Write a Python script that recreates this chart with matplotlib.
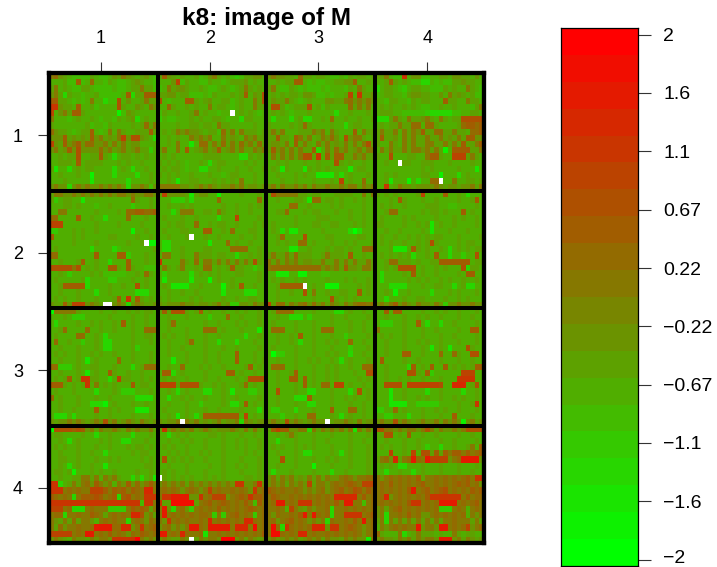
import numpy as np
import matplotlib
matplotlib.use('Agg')
import matplotlib.pyplot as plt
from matplotlib.colors import ListedColormap
from matplotlib.transforms import ScaledTranslation

plt.rcParams['font.family'] = ['Liberation Sans', 'DejaVu Sans']

# colour level of each cell, see level_of below for the key
# block_rc = row r, column c of the 4x4 layout, 19 rows of 24 cells
block_11 = ["ab98 7665 5876 6798 a987 8976", "7778 66c6 7b77 6876 6789 8776", "8a78 7668 8766 6576 6788 a886", "9a83 8776 7786 6556 7c38 8ccc",
    "cc88 7676 7a77 356d 7977 8a88", "ff98 87c7 7867 777d 8779 87a9", "e79a 8cc8 7777 7771 6987 7777", "a777 6787 7876 7768 7893 7877",
    "8777 7777 8677 6877 7787 8b8a", "b988 7678 8c76 7a7a 8778 88c8", "999c 8989 8c9a 898a e9dd 9873", "e98c 9ac9 bb99 a8a8 a899 7777",
    "9a89 c9d9 999b 9a89 a89a 8847", "7787 88d7 788c 8737 8878 7877", "7788 87c7 8888 7778 7877 8777", "8277 3787 8877 7737 8737 7877",
    "7787 7787 7177 7737 7773 7787", "7778 7777 7277 7777 7377 7787", "9a99 39a9 a99a 9a9a 9399 a959"]
block_12 = ["8c98 7877 8679 a878 6468 8997", "7779 e687 7668 7767 8889 7877", "67a8 9987 7876 6787 678a 8787", "8899 7885 6676 8777 878c 798d",
    "d767 77cc 8789 7788 6787 7a8d", "77b8 7787 877a 7887 6787 7a88", "5877 8778 a787 7677 7787 8767", "4766 7778 7877 8876 7738 8777",
    "7777 8778 8788 7a88 7777 7877", "7878 a9a9 9878 86b8 a7a8 8878", "7787 877a 9a9a 77a8 987a 9a88", "7787 a772 7bb8 a8b8 a8b9 a8b8",
    "8a77 a7c7 89a8 9c89 a8a8 8a9a", "7878 7777 7788 8877 7733 8787", "8787 8767 7873 7887 7778 7877", "7878 8767 7337 7877 7877 8778",
    "8787 8778 7778 7767 8877 7877", "7787 2778 8777 8787 87a7 7877", "aaaa a998 9a9a 9899 a9a8 9989"]
block_13 = ["9a99 887b 8878 8766 7687 8878", "7787 88cc 7676 6778 899c 7787", "8a76 6876 7665 7677 7687 a877", "7878 7887 9986 6767 78e7 f889",
    "7988 a876 7877 7998 8ab9 a9a9", "7dd8 6788 8d78 6877 77b8 a8a7", "7878 7677 7877 7773 7787 7787", "7377 7378 3377 87b7 7877 8778",
    "8777 7878 b877 7787 7378 8777", "8a8a 7778 88a9 a7a8 777c 7a88", "88c8 87ca 8a78 a9b9 7d9a a878", "8998 a7c8 a87a 8a89 8a8a 8ad8",
    "8c9a 8a8a 88c3 7a8b 9a89 a8aa", "7a8a 8a8a dd8f 7c8c c88a 9a88", "7787 8777 8778 777d 8787 7877", "7872 8777 2878 7877 7727 8877",
    "7787 7787 8772 2227 3787 7787", "7778 7787 7787 7787 e787 7b77", "9a8a 99a9 a8a9 9a99 a9aa 8a9a"]
block_14 = ["88a7 66f7 9966 7788 7998 8797", "778c 8787 6633 7576 6889 8877", "3788 7647 8877 6658 7877 a876", "6788 7768 9988 7797 a898 7866",
    "7768 8775 8788 777c 8877 a887", "7878 7787 8766 7787 7877 768a", "7888 7755 5554 3333 3567 7887", "3338 a87a 889a 87a8 788d dddd",
    "7878 8a88 bb7b b877 778b ccbc", "8a88 a7a8 a9c8 8bb8 8a88 7bbc", "8c88 97a8 a88a 88a8 98a8 cc99", "877a 87a8 a88a a88a 8a8c 88ac",
    "7a8a 88a8 aa9a 8a81 7ccc c88a", "877d 7778 877a cc87 7eee 8a87", "7787 7788 7788 8777 8777 7877", "7777 7777 7787 8777 7787 7727",
    "7787 8777 7788 7717 7737 8777", "7782 7771 7377 bb77 7a77 8878", "77f7 8a99 8999 9a98 9989 9a8a"]
block_21 = ["8aa9 9a9a 9a9a 9a9a a9a9 9aa9", "8478 8772 7777 7777 77b8 7787", "7778 8787 7767 7877 7747 7787", "77aa 7777 7787 7778 7bbc cbbc",
    "bb77 77c7 7877 3777 7b77 7877", "eee7 7777 7787 7778 7777 8777", "4477 7878 7787 7777 7717 7877", "c777 7878 7777 7887 7778 7787",
    "7777 7877 7787 7777 7877 8711", "7877 7777 7377 7735 7777 7778", "bb77 7777 77c7 777c c477 7877", "7787 778c 7787 7377 7c77 7877",
    "dddd dad7 8787 7cc8 7c87 7555", "7787 4777 7878 5555 5778 7b87", "7877 7778 3777 7447 7787 7877", "778c cccc 3777 7877 877d 7877",
    "7787 7787 7737 7877 7773 3377", "7878 7787 7787 778c 7f7c 8787", "988c 9eee 9a98 8a9a 939a 9889"]
block_22 = ["8e99 9982 8997 7177 7787 7787", "7774 4473 7777 7b77 7777 77b7", "7787 7878 7777 7787 7877 8787", "7773 7aaa 7788 7a87 7877 8777",
    "7877 7877 8777 7377 7e77 7787", "7787 8877 b778 7887 7877 7878", "7877 7887 77cc 7787 b777 8877", "7787 7787 7787 7877 7787 7877",
    "7337 7777 7772 777b 7877 8777", "7337 7877 7788 7777 bbbb 7787", "7aa7 7877 a888 7887 7377 8787", "f777 7a87 b7aa 8a8a 8a8a 8d87",
    "7a87 8a77 87bb 7878 c887 7477", "7477 7773 7878 7877 7887 7787", "7277 7772 7771 7877 8777 7787", "7872 2227 7877 7717 87c7 7877",
    "7787 7877 8777 7727 7773 3377", "8787 7778 7877 7787 7877 8877", "9899 9a99 8998 9a89 4499 8a99"]
block_23 = ["7daa aaa8 8788 7778 8887 7a7a", "7787 7788 72bb 7887 8778 7877", "7777 7bb7 7877 7787 8777 7877", "7788 b777 8788 7778 7787 7877",
    "7777 7787 7778 8877 7787 7877", "7877 7787 7788 7788 7778 7877", "7873 7227 7777 8777 7730 3777", "778b 7777 d777 7887 7777 8877",
    "7787 877b b787 7787 7878 7778", "7777 7227 7877 7878 8787 7bbb", "8a88 a8b8 8877 8a88 87c7 7877", "a8a8 a9a8 9988 a88a 8a8a 88a8",
    "abbb bbbb bbbb 9a9a 8c99 8aa8", "7722 2771 1777 5577 7777 7777", "7878 7787 8777 7877 7878 7787", "778c cccc 7787 7111 7777 8787",
    "7787 7877 d7a7 7877 8877 c787", "7787 7777 7787 77d8 7878 7777", "e8bb 8a9a b9b9 a8a9 8a9a bbab"]
block_24 = ["8787 8777 78e7 777c 7787 3777", "7778 7c87 7787 7877 7787 78c7", "7878 7787 7778 8877 6677 7787", "778b b777 7787 8878 777c 7877",
    "7877 7787 8777 7877 7878 7787", "8877 7787 7878 2787 7877 7787", "7787 7877 7787 2777 8777 8777", "7877 8778 7878 7887 7787 7778",
    "7878 7787 7878 d877 7787 8877", "7778 2227 c878 7787 3787 8788", "7878 7878 3778 7c77 3774 77d7", "778b b888 7877 88cc cccc c788",
    "7787 8ddd d787 7878 777d 3887", "7377 7787 c787 7877 7787 cc77", "7377 7778 7878 7787 8778 7787", "7773 3337 7787 7887 7378 3377",
    "7787 1778 7777 3777 8787 7787", "7737 7787 7887 7778 7787 8777", "9a9a c9a9 8a99 8a94 99a9 9a99"]
block_31 = ["0aaa aa87 7778 7787 7878 7887", "7778 7444 7777 7877 7787 7877", "7377 7787 7878 7787 c787 7877", "778b 7777 b778 7787 7787 7bbb",
    "7877 77bb 7787 3777 7787 7887", "7b77 8774 7787 3377 7787 7787", "7787 7787 7787 3377 7784 7777", "7878 7787 7878 7787 7787 7787",
    "7787 7787 2787 777b 7787 7787", "bb44 4787 7887 7787 7737 8bbb", "7787 7787 2787 7c87 7877 8777", "7878 c78f f887 737e 8877 8787",
    "ccc8 7878 f7a7 8787 77c7 8877", "7877 7877 7737 7787 4447 7787", "b787 7787 7787 7877 7773 3337", "7787 7787 7333 1787 7787 7877",
    "7787 7877 77c7 7878 7772 2277", "7333 7377 7787 7877 7787 7787", "9899 a9a9 89a9 d9a8 9a98 a989"]
block_32 = ["8c8d dd87 8c78 7787 7878 7787", "7787 7787 7774 777b 7787 7787", "778b 7777 7787 7877 7878 7787", "7787 7787 77bb b787 7787 7727",
    "7878 7787 7787 7877 7773 7787", "7787 778b 7787 7377 7377 7877", "7787 7877 7787 7787 7877 7787", "7787 7787 7787 7877 7c77 7877",
    "7772 7787 7787 7877 7c77 7878", "7787 7b77 7878 7787 7778 c787", "7cc3 7877 7787 777c c787 7877", "7878 7787 7787 7877 7878 dddd",
    "eeee 8ddd d877 8787 778b 7877", "7787 3787 7733 7787 2777 4477", "7737 7878 7787 7787 7877 7787", "7787 7787 7477 7787 337c 7877",
    "7877 7787 7787 7877 7787 7737", "7787 2787 37cc cccc cc7e 7877", "9899 a9a9 a898 9a89 9a3a 9899"]
block_33 = ["78bb bb77 7787 7773 3787 7877", "7787 7333 7477 7787 7877 7787", "7877 7787 7787 7787 7787 7877", "7bbb 7787 7787 bbb7 7787 7877",
    "7787 787c 7787 7787 7477 7787", "7787 7873 7787 7878 77b7 7877", "7877 7787 7787 7787 7747 7787", "7044 7787 7787 7878 7737 7877",
    "7787 7787 7878 7787 3787 7787", "7bbb 7787 7787 7878 7787 7bbb", "7787 78c7 7787 7878 7778 77dd", "7787 7cc7 c787 7878 7777 8787",
    "7787 7787 c787 bb7e e787 7877", "77d7 7787 7337 7787 7737 d787", "7787 7733 3c77 7787 7878 7787", "7787 7787 7337 7787 7787 7877",
    "7447 7737 7787 77c7 77bb 7877", "7774 7787 7bb7 7787 3787 7877", "9a98 d9a9 89a9 9a89 9a98 a899"]
block_34 = ["77c7 cc77 7787 7878 7787 7787", "7787 7787 7878 7787 7787 7877", "7444 7787 7c73 7737 7877 7787", "a777 7787 7787 7877 7787 7cc7",
    "7878 7787 7787 7787 7877 7787", "7787 7787 7878 7787 7787 7787", "7787 7787 7787 2787 2777 d877", "7787 77cc 7787 77b7 7b87 7dd7",
    "7c77 7787 7877 7787 7787 7877", "7787 7773 c787 c77c 7878 78cc", "7787 777d d87c 4777 777e ee77", "7787 7878 7787 7787 77ff ff77",
    "77dd dd7e eeee eed7 7ggg 78d7", "7772 7787 7773 7787 7773 7787", "7772 7787 7878 7787 7878 7787", "7772 2227 7444 4477 7787 78f7",
    "4477 b787 7787 7878 7787 7787", "7744 7773 7787 7787 7c77 7877", "9a99 d9a9 89a9 9a8a 9a91 9a89"]
block_41 = ["0ddd dcdc 9a8a 99a9 8a9a 99a8", "7887 7778 7737 7877 7737 7787", "7787 3787 7778 7877 3377 7877", "7878 7787 7787 7877 7878 8787",
    "7787 7787 7877 3777 7787 8877", "7788 7787 7787 7878 7777 8787", "7787 3787 7877 2777 7777 7887", "7887 8177 7878 7787 7778 7787",
    "7787 788a a8a7 a9a8 7737 3782", "ff37 8a8a b9ca 9a7a 9c9b 9aca", "fffa baba aeee cacb cacb agga", "cbab a3ac ccdc abc3 cdab afff",
    "ffff ffff ffff ffff ffff 5ffa", "eeea b333 abaa a444 4acb cb8a", "abb3 aaba acba 8aba bagg d9a8", "a98a 8b8a a97a baba a3ab a9ba",
    "a8b9 aaba abhh hhbb gg9a fabc", "eeee eaba hhab acab a9ba cbab", "9a98 7a99 8a9a a9ff fffj a9a9"]
block_42 = ["8f9a 9a9a 89a9 8999 a98a 8a87", "7737 8787 7778 8787 7787 7877", "7787 7878 7787 7787 7878 7787", "7878 7787 7787 7787 7878 7787",
    "7787 8787 7878 7787 7778 7877", "7d78 7878 7787 7787 7787 7787", "7787 7787 7778 7787 7878 7787", "7878 7787 7787 7787 7787 7787",
    "5878 7878 7787 8787 7778 8787", "9a9a 9a8a 9a9a 9a9a 9ff9 9af9", "abab a9ab a9ae abaa baba 9fab", "affh hhh9 9fab eee9 abcb fccb",
    "f88i iiii 8abc abcb abac a5ca", "ah93 ab94 abab acab abab cbab", "ahab abab abba 4a4a bcab a4ab", "a9fa baba abag abab abag gbab",
    "9ab9 a9ah hbah hhhh aggg aiab", "hhab agba ab2a abab abab abac", "9a98 8a99 8a9a a9jj j9a8 a989"]
block_43 = ["8cec c99a a3a8 a9a9 a8a2 a8a8", "7787 8a87 7787 7787 7787 7787", "7737 7787 7787 7877 7787 7877", "7878 7787 8787 7787 7787 7787",
    "7787 7787 3377 7787 3787 7787", "777d 7787 7787 7878 7787 7787", "7787 7787 7717 7787 7787 7787", "7377 7877 7787 7737 7877 7787",
    "9a8a 9a89 8a8a 8a99 aba9 aabb", "9a9a 8a9a 9e8a a9ab abcb aeee", "cbab aaba 9a9a b9ab cabd cacb", "acba abab abab abag gggg acab",
    "abhh abaf ffab abac ahha a5ab", "aaba 7ea9 8a9a ab3a abab abab", "a9ba abac hahb ab3a afff fabc", "ab9a bcab a9a9 a3ba abac ahab",
    "aib3 fbab abgg g9ff abcb a9ab", "aiib abag gaba abab abab a9ab", "9a99 a9a8 9a9a 8a99 8a9a 991a"]
block_44 = ["ddaa 9a9a a9ad a8a9 9a9a dddd", "78dd 787c 7787 7877 7787 7877", "7787 7787 7877 7787 7877 7787", "7878 7787 7874 7737 7877 8a7c",
    "777e 7787 e7dd 8c8c acca cabc", "8ab9 g8ab hbah eeee 9abh hhh9", "7878 7337 7787 7787 7787 7787", "7737 7877 3787 7787 7787 7877",
    "a9ab abab ac8a abab abab caff", "abac abab abca abab abcb cab9", "abab abac habc abcd abab acbc", "abg9 abab abac ffff fffa cabb",
    "abab abac ffab abhh hhab abca", "9a8a bcab abab ab44 4aba 7aba", "9a3a abac ab99 abab abab 7a9a", "8a3a 8a8a 8a8a 8a8a abaa a8a8",
    "7a9a baba ah9a a9hh abab e9ab", "b877 7a37 8a88 8787 7a87 8877", "9a99 8a9a 8a9a a9hh h9a8 a989"]
missing_cells = [(6, 40), (14, 77), (17, 86), (27, 21), (26, 31), (37, 12), (37, 13),
                 (34, 56), (56, 29), (56, 61), (65, 24), (75, 31)]

layout = [[block_11, block_12, block_13, block_14],
          [block_21, block_22, block_23, block_24],
          [block_31, block_32, block_33, block_34],
          [block_41, block_42, block_43, block_44]]
block_rows = 19
title = "k8: image of M"
axis_ticks = [1, 2, 3, 4]
bar_ticks = [2, 1.556, 1.111, 0.667, 0.222, -0.222, -0.667, -1.111, -1.556, -2]
bar_labels = ["2", "1.6", "1.1", "0.67", "0.22", "\u22120.22", "\u22120.67", "\u22121.1", "\u22121.6", "\u22122"]
n_levels = 20
# what each letter of the strings means as a band of the key (20 bands, green to red)
level_of = {'0': 0, '1': 1, '2': 2, '3': 3, '4': 4, '5': 5, '6': 5, '7': 6, '8': 7, '9': 8,
            'a': 10, 'b': 11, 'c': 12, 'd': 13, 'e': 14, 'f': 15, 'g': 16, 'h': 17, 'i': 18, 'j': 19}

# stick the blocks together into one image
grid = []
for line in layout:
    for r in range(block_rows):
        text = "".join(b[r].replace(" ", "") for b in line)
        grid.append([float(level_of[c]) for c in text])
grid = np.array(grid)
for r, c in missing_cells:
    grid[r, c] = np.nan

colors = [(k / (n_levels - 1), 1 - k / (n_levels - 1), 0) for k in range(n_levels)]
cmap = ListedColormap(colors)
cmap.set_bad('white')

W, H = 717, 567
fig = plt.figure(figsize=(W / 100, H / 100), dpi=100)

# main panel
ax = fig.add_axes([49.3 / W, 1 - 543.3 / H, 434.4 / W, 470 / H])
x0, x1 = 0.524, 4.52
y0, y1 = 4.472, 0.475
ax.imshow(grid, cmap=cmap, vmin=-0.5, vmax=n_levels - 0.5, extent=(x0, x1, y0, y1),
          aspect='auto', interpolation='nearest')
for k in range(1, 4):
    ax.axvline(x0 + k * (x1 - x0) / 4, color='black', lw=2.9)
    ax.axhline(y1 + k * (y0 - y1) / 4, color='black', lw=2.9)
for s in ax.spines.values():
    s.set_linewidth(3.1)
ax.set_xlim(x0, x1)
ax.set_ylim(y0, y1)
ax.xaxis.tick_top()
ax.set_xticks(axis_ticks)
ax.set_yticks(axis_ticks)
ax.tick_params(length=8, width=0.8, color='#333333', labelsize=13, pad=11)
fig.text(266 / W, 1 - 19 / H, title, ha='center', va='center', fontsize=17.5, fontweight='bold')

# colour key
cax = fig.add_axes([561 / W, 1 - 566 / H, 77.3 / W, 537.7 / H])
key = np.arange(n_levels)[::-1].reshape(-1, 1)
cax.imshow(key, cmap=cmap, vmin=-0.5, vmax=n_levels - 0.5, extent=(0, 1, -2.0488, 2.0488),
           aspect='auto', interpolation='nearest')
cax.set_xticks([])
cax.yaxis.tick_right()
cax.set_yticks(bar_ticks)
cax.set_yticklabels(bar_labels)
cax.tick_params(length=9, width=0.8, color='#333333', labelsize=14, pad=9)
for s in cax.spines.values():
    s.set_linewidth(0.9)
# last label sits close to the bottom edge, lift it a little
low = cax.get_yticklabels()[-1]
low.set_transform(low.get_transform() + ScaledTranslation(0, 2 / 72, fig.dpi_scale_trans))

fig.savefig('out.png', dpi=100)
